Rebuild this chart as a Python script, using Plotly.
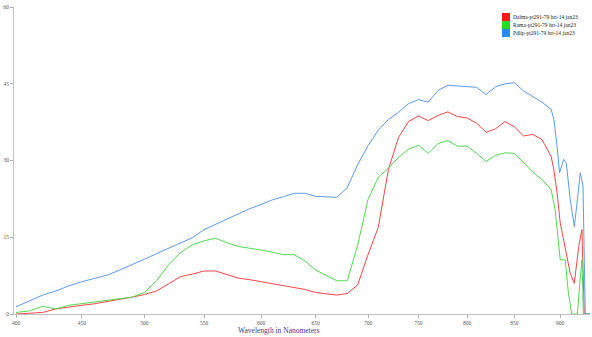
import plotly.graph_objects as go

# ---------------- data ----------------
wl_main = [400, 410, 420, 430, 440, 450, 460, 470, 480, 490,
           500, 510, 520, 530, 540, 550, 560, 570, 580, 590,
           600, 610, 620, 630, 640, 650, 660, 670, 680, 690,
           700, 710, 720, 730, 740, 750, 760, 770, 780, 790,
           800, 810, 820, 830, 840, 850, 860, 870, 880, 890]

dalma_main = [0.0, 0.1, 0.3, 1.0, 1.4, 1.7, 2.0, 2.4, 2.8, 3.3,
              3.8, 4.5, 5.9, 7.3, 7.8, 8.4, 8.4, 7.7, 7.0, 6.7,
              6.3, 5.9, 5.6, 5.2, 4.8, 4.2, 3.9, 3.7, 4.0, 5.7,
              11.6, 16.9, 28.2, 34.5, 37.6, 38.7, 37.8, 38.8, 39.5, 38.6,
              38.3, 37.3, 35.5, 36.2, 37.6, 36.6, 34.8, 35.1, 34.1, 30.8]
dalma_tail_wl = [893, 896.5, 900, 905.5, 911, 915.5, 918, 920.5, 924, 926, 926.6, 933]
dalma_tail = [28.2, 23.7, 17.8, 13.2, 8.0, 6.0, 9.6, 13.2, 16.5, 4.1, 0.0, 0.0]

rama_main = [0.3, 0.6, 1.5, 1.0, 1.7, 2.0, 2.3, 2.6, 2.9, 3.3,
             4.2, 6.5, 9.6, 12.0, 13.5, 14.3, 14.8, 13.9, 13.2, 12.9,
             12.5, 12.1, 11.6, 11.6, 10.4, 8.6, 7.5, 6.5, 6.5, 13.5,
             22.4, 26.7, 28.5, 30.6, 32.2, 33.0, 31.4, 33.3, 33.9, 32.8,
             32.8, 31.4, 29.8, 31.0, 31.5, 31.4, 29.6, 27.7, 26.3, 24.3]
rama_tail_wl = [894.4, 897.6, 900, 905.5, 909, 912.8, 919, 921.5, 924, 925, 925.5, 933]
rama_tail = [20.4, 14.5, 10.6, 10.6, 4.1, 0.0, 0.0, 5.7, 10.6, 4.7, 0.0, 0.0]

pdlip_main = [1.4, 2.5, 3.7, 4.5, 5.5, 6.3, 7.0, 7.6, 8.6, 9.6,
              10.7, 11.8, 12.8, 13.9, 14.9, 16.5, 17.5, 18.5, 19.6, 20.6,
              21.4, 22.3, 22.9, 23.6, 23.6, 23.0, 22.9, 22.8, 24.7, 29.2,
              32.9, 35.9, 38.0, 39.4, 41.1, 41.9, 41.4, 43.7, 44.7, 44.6,
              44.4, 44.3, 42.9, 44.4, 45.0, 45.2, 43.6, 42.5, 41.4, 40.0]
pdlip_tail_wl = [893, 896.5, 899.3, 903.7, 906.7, 911, 915.6, 919, 922.2, 925.2, 926.6, 927.7, 933]
pdlip_tail = [38.0, 32.8, 27.6, 30.2, 29.5, 22.4, 17.1, 22.4, 27.6, 25.0, 4.1, 0.0, 0.0]

series_names = ["Dalma-pt291-79 hrt-14 jan23",
                "Rama-pt291-79 hrt-14 jan23",
                "Pdlip-pt291-79 hrt-14 jan23"]
line_colors = ["#f04848", "#55d855", "#5e9ae8"]
legend_colors = ["#ff1a1a", "#22dd22", "#2a88f0"]

x_ticks = [400, 450, 500, 550, 600, 650, 700, 750, 800, 850, 900]
y_ticks = [0, 15, 30, 45, 60]


# detector-pixel calibration (axis is linear in detector pixel, not in nm)
def to_axis(wl):
    u = (wl - 400) / 50.0
    return 67.4 * u - 1.7 * u ** 2 + 0.04 * u ** 3


series = [
    (wl_main + dalma_tail_wl, dalma_main + dalma_tail),
    (wl_main + rama_tail_wl, rama_main + rama_tail),
    (wl_main + pdlip_tail_wl, pdlip_main + pdlip_tail),
]

fig = go.Figure()
for (wl, vals), name, col in zip(series, series_names, line_colors):
    fig.add_trace(go.Scatter(
        x=[to_axis(w) for w in wl], y=vals, mode="lines", name=name,
        line=dict(color=col, width=1), showlegend=False,
        customdata=wl, hovertemplate="%{customdata} nm: %{y}<extra>" + name + "</extra>"))

W, H = 592, 337
L, R, T, B = 14, 2, 7, 23


def px_x(px):
    return (px - L) / (W - L - R)


def px_y(py):
    return (H - B - py) / (H - T - B)


# legend drawn as coloured squares + labels
shapes = []
annotations = []
for i, (name, col) in enumerate(zip(series_names, legend_colors)):
    y0 = 13 + i * 8
    shapes.append(dict(type="rect", xref="paper", yref="paper",
                       x0=px_x(502), x1=px_x(510), y0=px_y(y0 + 8), y1=px_y(y0),
                       fillcolor=col, line=dict(width=0)))
    annotations.append(dict(text=name, xref="paper", yref="paper",
                            x=px_x(510.5), y=px_y(y0 + 4), xanchor="left", yanchor="middle",
                            showarrow=False,
                            font=dict(family="Liberation Serif", size=5.5, color="#222")))

annotations.append(dict(text="Wavelength in Nanometers", xref="paper", yref="paper",
                        x=px_x(279), y=px_y(330.5), xanchor="center", yanchor="middle",
                        showarrow=False,
                        font=dict(family="Liberation Serif", size=7.5, color="#3a3a8c")))

fig.update_layout(
    width=W, height=H,
    margin=dict(l=L, r=R, t=T, b=B, pad=0, autoexpand=False),
    paper_bgcolor="white", plot_bgcolor="white",
    shapes=shapes, annotations=annotations,
    xaxis=dict(range=[to_axis(398.5), to_axis(933)], automargin=False,
               tickvals=[to_axis(t) for t in x_ticks], ticktext=[str(t) for t in x_ticks],
               showgrid=False, zeroline=False, showline=True, linecolor="#c0c0c0", linewidth=1,
               ticks="outside", ticklen=3, tickcolor="#b0b0b0",
               tickfont=dict(family="Liberation Serif", size=5.5, color="#555")),
    yaxis=dict(range=[0, 60], tickvals=y_ticks, automargin=False,
               showgrid=False, zeroline=False, showline=True, linecolor="#c0c0c0", linewidth=1,
               ticks="outside", ticklen=3, tickcolor="#b0b0b0",
               tickfont=dict(family="Liberation Serif", size=5.5, color="#555")),
    showlegend=False,
)

fig.write_html("out.html", config={"displayModeBar": False},
               post_script="document.body.style.margin='0px';document.body.style.overflow='hidden';")
